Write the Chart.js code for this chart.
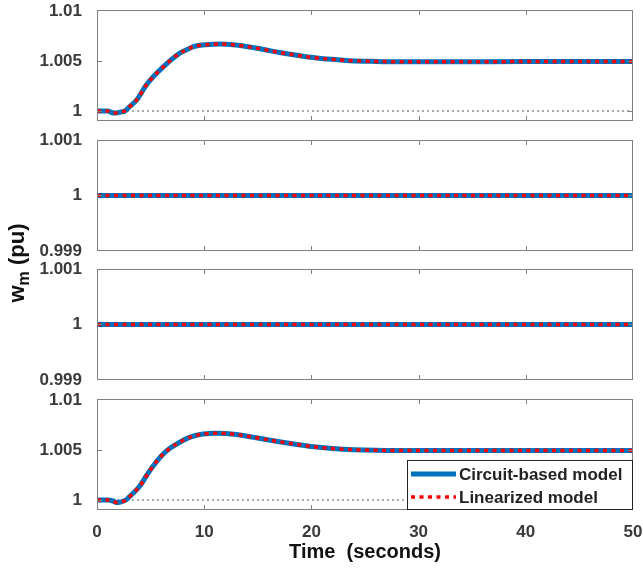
<!DOCTYPE html>
<html>
<head>
<meta charset="utf-8">
<script src="https://cdn.jsdelivr.net/npm/chart.js@4.4.1/dist/chart.umd.min.js"></script>
<style>
  body { margin: 0; background: #fff; }
  #wrap { position: relative; width: 643px; height: 570px; }
  #wrap canvas { position: absolute; left: 0; top: 0; }
</style>
</head>
<body>
<div id="wrap">
  <canvas id="p1" width="643" height="570"></canvas>
  <canvas id="p2" width="643" height="570"></canvas>
  <canvas id="p3" width="643" height="570"></canvas>
  <canvas id="p4" width="643" height="570"></canvas>
</div>
<script>
// values (rotor speed w_m, pu)
const seriesNames = ["Circuit-based model", "Linearized model"];

const time1 = [0, 0.5, 1, 1.5, 1.8, 2.2, 2.6, 3, 3.7, 4.6, 5.4, 6.2, 7, 7.7, 8.4, 9, 9.8, 10.8, 11.5, 12.5, 13.5, 14.5, 15.8, 17, 18.5, 19.9, 21.5, 23.6, 26, 28.3, 32, 40, 50];
const wm1 = [1, 1, 1, 0.9998, 0.9998, 0.9999, 1.0, 1.0004, 1.0011, 1.0026, 1.0036, 1.00443, 1.0052, 1.00577, 1.00615, 1.00643, 1.0066, 1.00667, 1.0067, 1.00665, 1.00652, 1.00635, 1.0061, 1.00585, 1.0056, 1.00537, 1.0052, 1.00503, 1.00496, 1.00493, 1.00493, 1.00494, 1.00495];

const timeFlat = [0, 50];
const wm2 = [1, 1];
const wm3 = [1, 1];

const time4 = [0, 0.5, 1, 1.5, 1.8, 2.2, 2.7, 3.2, 4, 4.6, 5.2, 6, 6.8, 7.6, 8.4, 9.2, 9.9, 11, 12, 13, 14, 15.5, 17, 18.5, 20, 22, 24, 26, 30, 40, 50];
const wm4 = [1, 1, 1, 0.9999, 0.99975, 0.9998, 1.0, 1.0005, 1.0014, 1.0024, 1.00335, 1.0044, 1.00517, 1.0057, 1.00616, 1.00645, 1.0066, 1.00668, 1.00665, 1.00655, 1.00638, 1.0061, 1.00583, 1.00558, 1.00535, 1.00515, 1.00503, 1.00497, 1.00494, 1.00495, 1.00495];

const refLevel = [1, 1];   // dotted reference line in panels 1 and 4

const xTicks = [0, 10, 20, 30, 40, 50];
const yTicksBig = [1, 1.005, 1.01];
const yTicksSmall = [0.999, 1, 1.001];

const textColor = "#3a3a3a";
const boxColor = "#808080";
const FONT = "'Liberation Sans', Arial, sans-serif";

const pts = (xs, ys) => xs.map((x, i) => ({ x: x, y: ys[i] }));

// box + inward ticks like MATLAB axes
const framePlugin = {
  id: "frame",
  afterDraw(chart) {
    const ctx = chart.ctx, ca = chart.chartArea;
    const xs = chart.scales.x, ys = chart.scales.y;
    ctx.save();
    ctx.strokeStyle = boxColor;
    ctx.lineWidth = 1;
    ctx.strokeRect(ca.left + 0.5, ca.top + 0.5, ca.right - ca.left - 1, ca.bottom - ca.top - 1);
    ctx.beginPath();
    xTicks.slice(1, -1).forEach(v => {
      const px = Math.round(xs.getPixelForValue(v)) + 0.5;
      ctx.moveTo(px, ca.bottom); ctx.lineTo(px, ca.bottom - 5);
      ctx.moveTo(px, ca.top); ctx.lineTo(px, ca.top + 5);
    });
    chart.options.plugins.frame.yTicks.forEach(v => {
      const py = Math.round(ys.getPixelForValue(v)) + 0.5;
      if (py <= ca.top + 2 || py >= ca.bottom - 2) return;
      ctx.moveTo(ca.left, py); ctx.lineTo(ca.left + 5, py);
      ctx.moveTo(ca.right, py); ctx.lineTo(ca.right - 5, py);
    });
    ctx.stroke();
    ctx.restore();
  }
};

const legendPlugin = {
  id: "boxLegend",
  afterDraw(chart) {
    if (!chart.options.plugins.boxLegend.show) return;
    const ctx = chart.ctx, ca = chart.chartArea;
    const ds = chart.data.datasets;
    const w = 226, h = 50;
    const x0 = ca.right - w, y0 = ca.bottom - h;
    ctx.save();
    ctx.fillStyle = "#fff";
    ctx.fillRect(x0, y0, w, h);
    ctx.strokeStyle = "#222";
    ctx.lineWidth = 1;
    ctx.strokeRect(x0 + 0.5, y0 + 0.5, w - 1, h - 1);
    ctx.font = "bold 17px " + FONT;
    ctx.textBaseline = "middle";
    ctx.fillStyle = "#222";
    [ds[1], ds[0]].forEach((d, i) => {
      const cy = y0 + 14 + i * 23;
      ctx.beginPath();
      ctx.strokeStyle = d.borderColor;
      ctx.lineWidth = d.borderWidth;
      ctx.setLineDash(d.borderDash || []);
      ctx.moveTo(x0 + 4, cy); ctx.lineTo(x0 + 49, cy);
      ctx.stroke();
      ctx.setLineDash([]);
      ctx.fillText(seriesNames[i], x0 + 52, cy + 1);
    });
    ctx.restore();
  }
};

const yLabelPlugin = {
  id: "yLabel",
  afterDraw(chart) {
    if (!chart.options.plugins.yLabel.show) return;
    const ctx = chart.ctx;
    ctx.save();
    ctx.translate(18, 263);
    ctx.rotate(-Math.PI / 2);
    ctx.fillStyle = "#111";
    ctx.textBaseline = "middle";
    const big = "bold 22px " + FONT, small = "bold 16px " + FONT;
    ctx.font = big; const wW = ctx.measureText("w").width;
    const restW = ctx.measureText(" (pu)").width;
    ctx.font = small; const mW = ctx.measureText("m").width;
    let x = -(wW + mW + restW) / 2;
    ctx.font = big; ctx.fillText("w", x, 0); x += wW;
    ctx.font = small; ctx.fillText("m", x, 7); x += mW;
    ctx.font = big; ctx.fillText(" (pu)", x, 0);
    ctx.restore();
  }
};

function makePanel(id, t, y, yTicks, yMin, yMax, top, bottomPad, opts) {
  const datasets = [
    { data: pts(t, y), borderColor: "#ff0000", borderWidth: 3.5, borderDash: [4, 4.5], order: 0 },
    { data: pts(t, y), borderColor: "#0072bd", borderWidth: 5, order: 1 }
  ];
  if (opts.ref) {
    datasets.push({ data: pts(timeFlat, refLevel), borderColor: "#555", borderWidth: 1, borderDash: [2, 3], order: 2 });
  }
  datasets.forEach(d => { d.pointRadius = 0; d.fill = false; d.cubicInterpolationMode = "monotone"; });

  return new Chart(document.getElementById(id), {
    type: "line",
    data: { datasets: datasets },
    options: {
      responsive: false,
      animation: false,
      devicePixelRatio: 1,
      layout: { padding: { left: 0, right: 10, top: top, bottom: bottomPad } },
      plugins: {
        legend: { display: false },
        tooltip: { enabled: false },
        frame: { yTicks: yTicks },
        boxLegend: { show: !!opts.legend },
        yLabel: { show: !!opts.yLabel }
      },
      scales: {
        x: {
          type: "linear", min: 0, max: 50,
          display: !!opts.xAxis,
          grid: { display: false },
          border: { display: false },
          afterBuildTicks: s => { s.ticks = xTicks.map(v => ({ value: v })); },
          afterFit: s => { if (opts.xAxis) s.height = 58; else s.height = 0; s.paddingLeft = 0; s.paddingRight = 0; },
          ticks: { color: textColor, font: { family: FONT, size: 17, weight: "bold" }, padding: 4, maxRotation: 0 },
          title: { display: true, text: "Time  (seconds)", color: "#111", font: { family: FONT, size: 20, weight: "bold" }, padding: { top: 4, bottom: 4 } }
        },
        y: {
          type: "linear", min: yMin, max: yMax,
          grid: { display: false },
          border: { display: false },
          afterBuildTicks: s => { s.ticks = yTicks.map(v => ({ value: v })); },
          afterFit: s => { s.width = 97; s.paddingTop = 0; s.paddingBottom = 0; },
          ticks: { color: textColor, font: { family: FONT, size: 17, weight: "bold" }, padding: 7, callback: v => String(v) }
        }
      }
    },
    plugins: [framePlugin, legendPlugin, yLabelPlugin]
  });
}

makePanel("p1", time1, wm1, yTicksBig, 0.999, 1.0101, 10, 449, { ref: true });
makePanel("p2", timeFlat, wm2, yTicksSmall, 0.999, 1.001, 140, 319, {});
makePanel("p3", timeFlat, wm3, yTicksSmall, 0.999, 1.001, 269, 190, {});
makePanel("p4", time4, wm4, yTicksBig, 0.999, 1.0101, 399, 2, { ref: true, xAxis: true, legend: true, yLabel: true });
</script>
</body>
</html>
